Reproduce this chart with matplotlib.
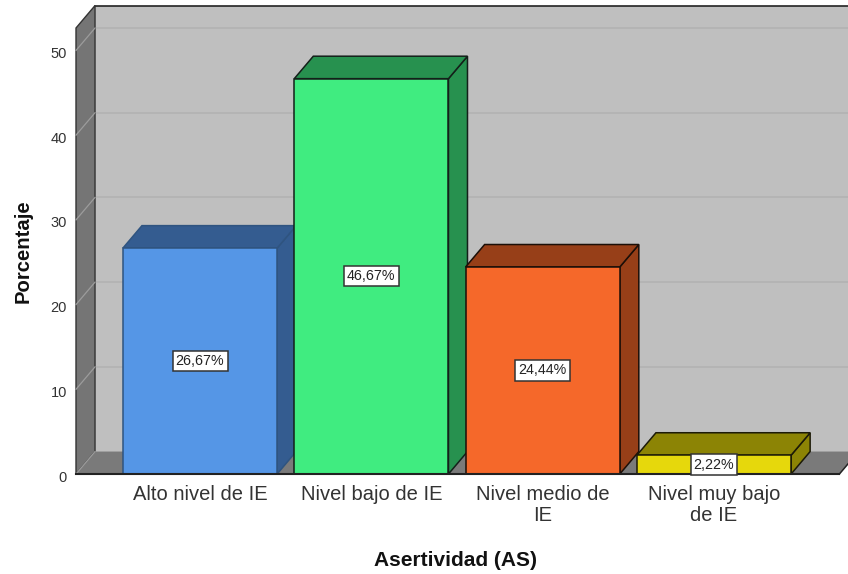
import matplotlib
matplotlib.use('Agg')
import matplotlib.pyplot as plt
from matplotlib.patches import Polygon
from matplotlib.transforms import ScaledTranslation

plt.rcParams['font.family'] = ['Liberation Sans', 'DejaVu Sans']

categories = ['Alto nivel de IE', 'Nivel bajo de IE', 'Nivel medio de\nIE', 'Nivel muy bajo\nde IE']
values = [26.67, 46.67, 24.44, 2.22]
labels = ['26,67%', '46,67%', '24,44%', '2,22%']
front_colors = ['#5596e6', '#40ec80', '#f5682a', '#e6d80c']
top_colors = ['#345c90', '#27914f', '#973f18', '#8c8405']
edge_colors = ['#2f5480', '#14201a', '#1c0f08', '#1c1a08']
y_ticks = [0, 10, 20, 30, 40, 50]

# depth of the fake 3d box, in data units
DX = 0.111
DY = 2.65
BAR_W = 0.9
XMIN, XMAX = -0.724, 3.782
YMAX = 52.65

fig = plt.figure(figsize=(8.48, 5.74), dpi=100)
ax = fig.add_axes([76 / 848, 1 - 474 / 574, (848 - 76) / 848, (474 - 28) / 574])
ax.set_xlim(XMIN, XMAX)
ax.set_ylim(0, YMAX)
for s in ax.spines.values():
    s.set_visible(False)
ax.patch.set_visible(False)


def poly(pts, fc, ec='#111111', lw=1.1, z=1):
    ax.add_patch(Polygon(pts, closed=True, fc=fc, ec=ec, lw=lw, zorder=z, clip_on=False, joinstyle='miter'))


# back wall, side wall, floor
poly([(XMIN + DX, DY), (XMAX + DX, DY), (XMAX + DX, YMAX + DY), (XMIN + DX, YMAX + DY)], '#bfbfbf', ec='none', z=1)
ax.plot([XMIN + DX, XMAX + DX], [YMAX + DY] * 2, color='#222222', lw=1.2, zorder=2, clip_on=False)
poly([(XMIN, 0), (XMIN + DX, DY), (XMIN + DX, YMAX + DY), (XMIN, YMAX)], '#757575', ec='#333333', lw=1.0, z=2)
poly([(XMIN, 0), (XMAX - 0.05, 0), (XMAX - 0.05 + DX, DY), (XMIN + DX, DY)], '#7a7a7a', ec='none', z=2)
ax.plot([XMAX - 0.05, XMAX - 0.05 + DX], [0, DY], color='#222222', lw=1.1, zorder=2, clip_on=False)

# grid on the walls
for t in y_ticks[1:]:
    ax.plot([XMIN + DX, XMAX + DX], [t + DY] * 2, color='#b3b3b3', lw=1.3, zorder=1.5, clip_on=False)
    ax.plot([XMIN, XMIN + DX], [t, t + DY], color='#9c9c9c', lw=0.9, zorder=3, clip_on=False)
ax.plot([XMIN, XMIN + DX], [0, DY], color='#9c9c9c', lw=0.9, zorder=3)

# bars
for i, v in enumerate(values):
    x0 = i - BAR_W / 2
    x1 = i + BAR_W / 2
    z = 4 + i * 0.1
    poly([(x1, 0), (x1 + DX, DY), (x1 + DX, v + DY), (x1, v)], top_colors[i], ec=edge_colors[i], z=z)
    poly([(x0, v), (x1, v), (x1 + DX, v + DY), (x0 + DX, v + DY)], top_colors[i], ec=edge_colors[i], z=z)
    poly([(x0, 0), (x1, 0), (x1, v), (x0, v)], front_colors[i], ec=edge_colors[i], z=z)
    ax.text(i, v / 2, labels[i], ha='center', va='center', fontsize=10.3, color='#222222', zorder=6,
            bbox=dict(boxstyle='square,pad=0.22', fc='white', ec='#333333', lw=1.1))

ax.plot([XMIN, XMAX - 0.05], [0, 0], color='#222222', lw=1.5, zorder=5, clip_on=False)

ax.set_xticks(range(len(categories)))
ax.set_xticklabels(categories, fontsize=14.5, color='#333333', linespacing=1.15)
ax.set_yticks(y_ticks)
ax.set_yticklabels([str(t) for t in y_ticks], fontsize=10.5, color='#333333')
ax.tick_params(axis='x', length=0, pad=8)
ax.tick_params(axis='y', length=0, pad=6.5)
# numbers sit a little under their grid line in the original
shift = ScaledTranslation(0, -2 / 100, fig.dpi_scale_trans)
for lab in ax.get_yticklabels():
    lab.set_transform(lab.get_transform() + shift)

fig.text(456 / 848, 1 - 560 / 574, 'Asertividad (AS)', ha='center', va='center', fontsize=15, fontweight='bold', color='#111111')
fig.text(23 / 848, 1 - 251 / 574, 'Porcentaje', ha='center', va='center', rotation=90, fontsize=14.6, fontweight='bold', color='#111111')

fig.savefig('out.png', dpi=100, facecolor='white')
